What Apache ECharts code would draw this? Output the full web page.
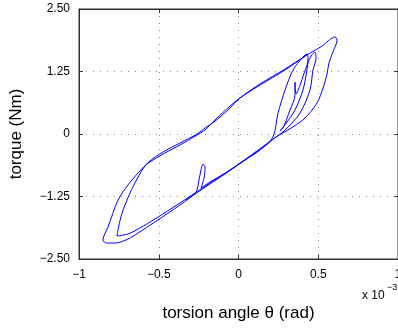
<!DOCTYPE html>
<html>
<head>
<meta charset="utf-8">
<script src="https://cdn.jsdelivr.net/npm/echarts@6/dist/echarts.min.js"></script>
<style>
html,body{margin:0;padding:0;background:#fff;}
#chart{width:398px;height:329px;}
</style>
</head>
<body>
<div id="chart"></div>
<script>
// torsion angle (x 10^-3 rad), in drawing order
const thetaValues = [
  -0.335,-0.266,-0.248,-0.235,-0.223,-0.210,-0.216,-0.235,-0.179,-0.072,0.041,0.135,0.216,
  0.248,0.292,0.342,0.404,0.429,0.436,0.429,0.404,0.354,0.304,0.260,
  0.279,0.323,0.354,0.354,0.361,0.386,0.423,0.455,0.480,0.486,0.467,0.448,0.386,0.292,0.235,
  0.166,0.072,-0.072,-0.179,-0.254,-0.367,-0.524,-0.618,-0.693,-0.762,
  -0.752,-0.730,-0.680,-0.636,-0.586,-0.536,-0.461,-0.367,-0.260,-0.210,-0.141,-0.053,0.009,0.135,0.292,0.429,0.524,0.605,
  0.618,0.592,0.567,0.555,0.530,0.492,0.411,0.310,0.235,
  0.166,0.041,-0.085,-0.179,-0.254,-0.367,-0.524,-0.630,-0.693,-0.771,-0.828,-0.850,
  -0.818,-0.755,-0.693,-0.630,-0.555,-0.473,-0.367,-0.260,-0.210,-0.154,-0.066,0.009,0.135,0.292,0.436
];
// torque (Nm), in drawing order
const torqueValues = [
  -1.32,-1.16,-0.92,-0.72,-0.60,-0.66,-0.88,-1.08,-0.96,-0.76,-0.52,-0.32,-0.06,
  0.42,0.88,1.28,1.54,1.60,1.52,1.28,0.88,0.48,0.24,0.06,
  0.12,0.48,0.78,1.04,0.80,0.98,1.32,1.56,1.64,1.52,1.28,0.88,0.42,0.08,-0.06,
  -0.22,-0.44,-0.76,-0.98,-1.14,-1.38,-1.70,-1.88,-2.00,-2.04,
  -1.86,-1.58,-1.18,-0.90,-0.64,-0.52,-0.38,-0.22,-0.02,0.08,0.30,0.56,0.72,0.98,1.28,1.58,1.76,1.94,
  1.88,1.64,1.42,1.20,0.92,0.62,0.30,0.08,-0.06,
  -0.24,-0.52,-0.80,-1.00,-1.16,-1.42,-1.76,-1.98,-2.10,-2.18,-2.18,-2.12,
  -1.86,-1.32,-1.02,-0.78,-0.54,-0.36,-0.18,0.00,0.12,0.24,0.48,0.72,1.00,1.30,1.60
];
const xTicks = [-1, -0.5, 0, 0.5, 1];
const xTickLabels = ['\u22121', '\u22120.5', '0', '0.5', '1'];
const yTicks = [-2.5, -1.25, 0, 1.25, 2.5];
const yTickLabels = ['\u22122.50', '\u22121.25', '0', '1.25', '2.50'];

const pts = thetaValues.map((x, i) => [x, torqueValues[i]]);
const font = '"Liberation Sans", Arial, Helvetica, sans-serif';
const xLab = v => { const i = xTicks.findIndex(t => Math.abs(t - v) < 1e-9); return i >= 0 ? xTickLabels[i] : ''; };
const yLab = v => { const i = yTicks.findIndex(t => Math.abs(t - v) < 1e-9); return i >= 0 ? yTickLabels[i] : ''; };
const gridLine = {show: true, lineStyle: {color: '#8a8a8a', width: 1, type: [1, 6]}};
const axisLine = {show: true, onZero: false, lineStyle: {color: '#333', width: 1}};
const tick = {show: true, inside: true, length: 4, lineStyle: {color: '#333'}};

const chart = echarts.init(document.getElementById('chart'), null, {renderer: 'canvas'});
chart.setOption({
  animation: false,
  backgroundColor: '#fff',
  grid: {left: 79, right: 0, top: 9, bottom: 70, outerBoundsMode: 'none', containLabel: false,
         show: true, borderColor: '#333', borderWidth: 1, backgroundColor: 'transparent'},
  xAxis: [{
    type: 'value', min: -1, max: 1, interval: 0.5, position: 'bottom',
    name: 'torsion angle \u03b8 (rad)', nameLocation: 'middle', nameGap: 46,
    nameTextStyle: {fontFamily: font, fontSize: 17, color: '#000'},
    axisLine: axisLine, axisTick: tick,
    axisLabel: {show: true, margin: 10, fontFamily: font, fontSize: 12, color: '#000', formatter: xLab, hideOverlap: false},
    splitLine: gridLine
  }, {
    type: 'value', min: -1, max: 1, interval: 0.5, position: 'top',
    axisLine: axisLine, axisTick: tick,
    axisLabel: {show: false}, splitLine: {show: false}
  }],
  yAxis: [{
    type: 'value', min: -2.5, max: 2.5, interval: 1.25, position: 'left',
    name: 'torque (Nm)', nameLocation: 'middle', nameGap: 54,
    nameTextStyle: {fontFamily: font, fontSize: 17, color: '#000'},
    axisLine: axisLine, axisTick: tick,
    axisLabel: {show: true, margin: 9, fontFamily: font, fontSize: 12, color: '#000', formatter: yLab},
    splitLine: gridLine
  }, {
    type: 'value', min: -2.5, max: 2.5, interval: 1.25, position: 'right',
    axisLine: axisLine, axisTick: tick,
    axisLabel: {show: false}, splitLine: {show: false}
  }],
  graphic: [
    {type: 'text', left: 362, top: 290, style: {text: 'x 10', font: '12px ' + font, fill: '#000'}},
    {type: 'text', left: 387, top: 283, style: {text: '\u22123', font: '9px ' + font, fill: '#000'}}
  ],
  series: [{
    type: 'line', data: pts, xAxisIndex: 0, yAxisIndex: 0,
    showSymbol: false, symbol: 'none', smooth: 0.3,
    lineStyle: {color: '#0000ff', width: 1},
    clip: true
  }]
});
</script>
</body>
</html>
